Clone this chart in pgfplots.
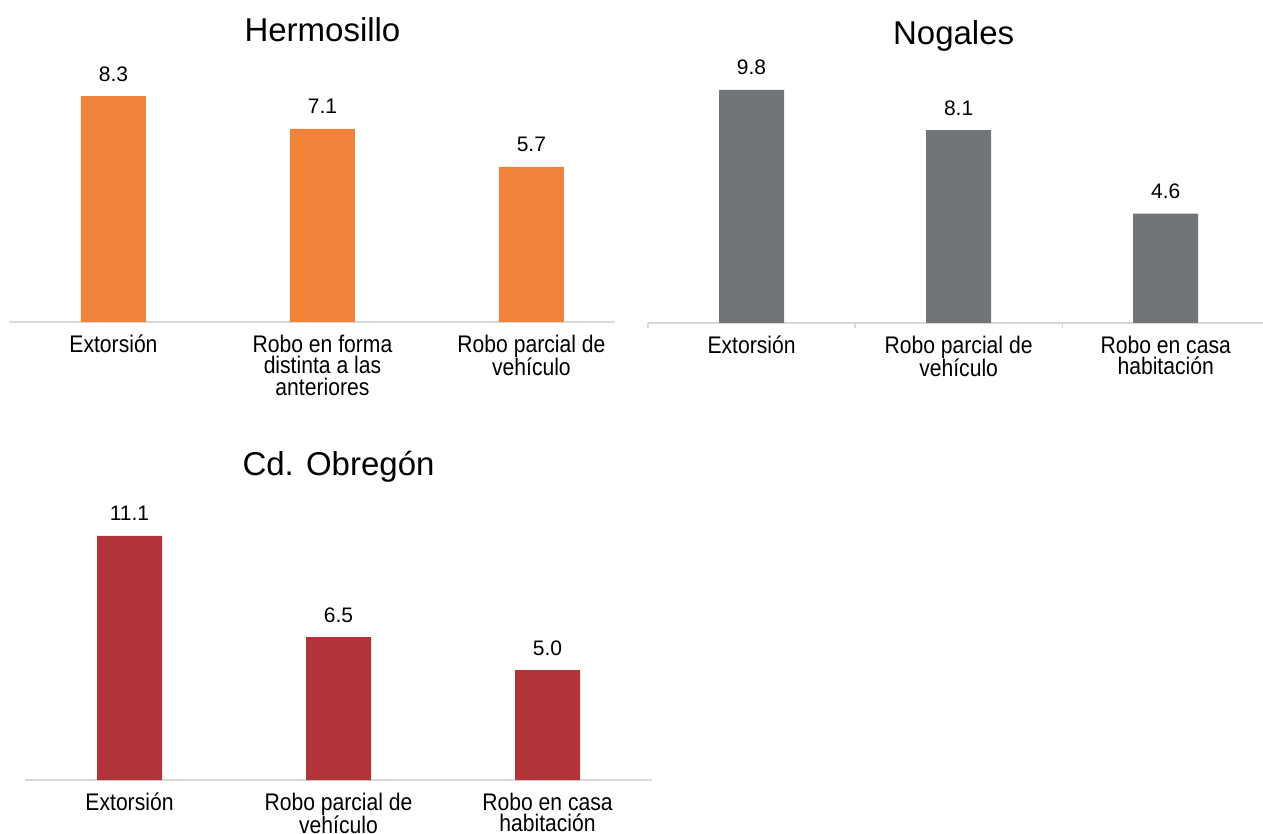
\documentclass[border=0pt]{standalone}
\usepackage{pgfplots}
\pgfplotsset{compat=1.18}
\usepackage{fontspec}
\setmainfont{Liberation Sans}
\newfontfamily\condfont[FakeStretch=0.88]{Liberation Sans}
\definecolor{cOrange}{HTML}{F0833A}
\definecolor{cGray}{HTML}{717578}
\definecolor{cRed}{HTML}{B1343A}
\definecolor{cLine}{HTML}{D9D9D9}
\newcommand{\fl}{\rule{0pt}{20pt}}
\pgfplotsset{
  panel/.style={
    scale only axis,
    anchor=south west,
    ymin=0,
    clip=false,
    hide y axis,
    axis x line*=bottom,
    x axis line style={draw=cLine, line width=1.5pt, -},
    xtick={0,1,2},
    major tick length=0pt,
    xtick style={draw=none},
    xticklabel style={align=center, font=\condfont\fontsize{24}{21.5}\selectfont, inner sep=0pt, anchor=north, yshift=-10pt},
    ybar,
    bar width=65pt,
    nodes near coords,
    nodes near coords style={font=\fontsize{21}{24}\selectfont, anchor=base, yshift=15pt, text=black},
    /pgf/number format/.cd, fixed, fixed zerofill, precision=1, assume math mode=true,
  },
}
\begin{document}
\begin{tikzpicture}
\useasboundingbox (0,0) rectangle (1263pt,833pt);
% Hermosillo
\begin{axis}[panel,
  at={(9pt,511pt)}, width=606pt, height=272pt,
  xmin=-0.5, xmax=2.4, ymax=10,
  xticklabels={{\fl Extorsión}, {\fl Robo en forma\\distinta a las\\anteriores}, {\fl Robo parcial de\\vehículo}},
]
\addplot[fill=cOrange, draw=none] coordinates {(0,8.3) (1,7.1) (2,5.7)};
\node[anchor=base, font=\fontsize{33}{36}\selectfont] at (axis cs:1,10.33) {Hermosillo};
\end{axis}
% Nogales
\begin{axis}[panel,
  at={(648pt,510pt)}, width=615pt, height=285.6pt,
  xmin=-0.5, xmax=2.47, ymax=12,
  xticklabels={{\fl Extorsión}, {\fl Robo parcial de\\vehículo}, {\fl Robo en casa\\habitación}},
  extra x ticks={-0.5,0.5,1.5},
  extra x tick labels={},
  extra x tick style={major tick length=5pt, tick align=outside, xtick style={draw=cLine, line width=1.2pt}},
]
\addplot[fill=cGray, draw=none] coordinates {(0,9.8) (1,8.1) (2,4.6)};
\node[anchor=base, font=\fontsize{33}{36}\selectfont] at (axis cs:0.976,11.72) {Nogales};
\end{axis}
% Cd. Obregon
\begin{axis}[panel,
  at={(25pt,53pt)}, width=627pt, height=264pt,
  xmin=-0.5, xmax=2.5, ymax=12,
  xticklabels={{\fl Extorsión}, {\fl Robo parcial de\\vehículo}, {\fl Robo en casa\\habitación}},
]
\addplot[fill=cRed, draw=none] coordinates {(0,11.1) (1,6.5) (2,5.0)};
\node[anchor=base, font=\fontsize{33}{36}\selectfont] at (axis cs:1,13.86) {Cd. Obregón};
\end{axis}
\end{tikzpicture}
\end{document}
